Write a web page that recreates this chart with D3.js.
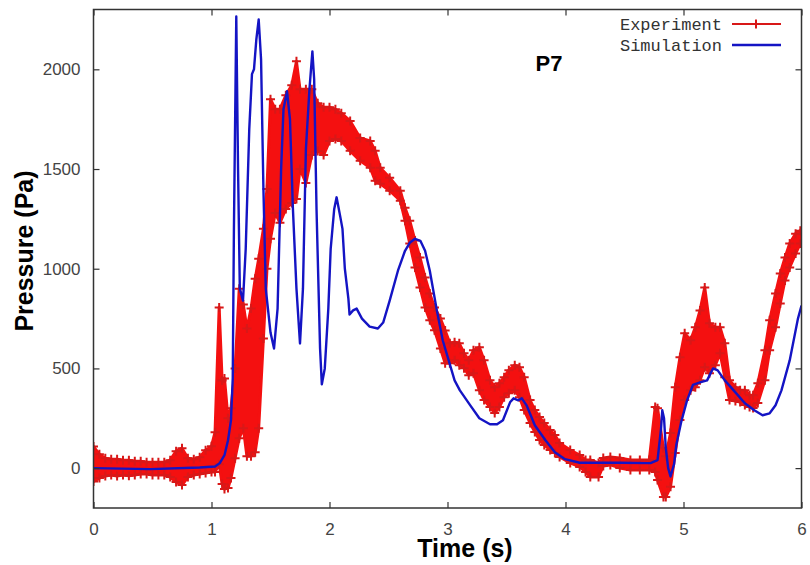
<!DOCTYPE html>
<html lang="en">
<head>
    <meta charset="UTF-8">
    <title>P7 pressure</title>
    <script src="https://d3js.org/d3.v7.min.js"></script>
    <style>
        body { margin: 0; background: #fff; }
        svg { display: block; }
        .tick text { font-family: "Liberation Sans", Arial, sans-serif; font-size: 17px; fill: #444; }
        .tick line { stroke: #333; stroke-width: 1.2; }
    </style>
</head>
<body>
    <div id="chart"></div>

    <script>
        // Experiment: band (upper / lower edge of the noisy trace)
        const expT = [0.00, 0.05, 0.10, 0.15, 0.20, 0.25, 0.30, 0.35, 0.40, 0.45, 0.50, 0.55, 0.60, 0.65, 0.70, 0.75, 0.80, 0.85, 0.90, 0.95,
            1.00, 1.03, 1.065, 1.09, 1.11, 1.14, 1.165, 1.20, 1.235, 1.27, 1.30, 1.335, 1.37, 1.40, 1.44, 1.47, 1.50, 1.54, 1.58, 1.63,
            1.68, 1.72, 1.75, 1.80, 1.85, 1.90, 1.95, 2.00, 2.05, 2.10, 2.175, 2.26, 2.345, 2.387, 2.43, 2.51, 2.60, 2.64, 2.68, 2.725,
            2.767, 2.81, 2.85, 2.89, 2.94, 2.98, 3.02, 3.06, 3.10, 3.14, 3.18, 3.22, 3.27, 3.31, 3.36, 3.40, 3.44, 3.48, 3.52, 3.57,
            3.61, 3.65, 3.70, 3.74, 3.78, 3.82, 3.87, 3.91, 3.95, 4.04, 4.12, 4.17, 4.21, 4.28, 4.32, 4.38, 4.46, 4.55, 4.63, 4.71,
            4.76, 4.78, 4.83, 4.85, 4.89, 4.93, 4.97, 5.01, 5.06, 5.10, 5.14, 5.18, 5.22, 5.27, 5.31, 5.35, 5.39, 5.44, 5.48, 5.52,
            5.56, 5.59, 5.63, 5.69, 5.73, 5.78, 5.82, 5.86, 5.90, 5.95, 5.99];
        const expHi = [108, 70, 50, 45, 45, 40, 40, 35, 35, 30, 30, 30, 30, 40, 85, 100, 50, 45, 55, 90,
            110, 180, 806, 440, 450, 250, 300, 500, 900, 820, 700, 800, 950, 1050, 1200, 1400, 1850, 1800, 1800, 1870,
            1920, 2040, 1900, 1900, 1900, 1830, 1810, 1810, 1800, 1780, 1741, 1656, 1641, 1591, 1506, 1456, 1391, 1306, 1241, 1141,
            1056, 956, 876, 806, 750, 690, 626, 631, 626, 576, 541, 591, 606, 541, 441, 406, 426, 456, 491, 516,
            506, 456, 341, 291, 256, 226, 191, 166, 126, 91, 66, 41, 41, 26, 51, 56, 51, 41, 41, 41,
            306, 300, 100, 60, 176, 406, 556, 676, 641, 706, 791, 906, 726, 706, 706, 626, 441, 406, 391, 391,
            366, 366, 426, 591, 741, 876, 976, 1056, 1126, 1176, 1191];
        const expLo = [-67, -50, -40, -35, -40, -35, -38, -35, -30, -30, -35, -35, -35, -45, -70, -85, -45, -35, -30, -25,
            -20, -20, 20, -80, -105, -100, -50, 50, 150, 200, 60, 60, 80, 200, 650, 1000, 1150, 1280, 1230, 1300,
            1330, 1350, 1500, 1430, 1570, 1590, 1570, 1640, 1650, 1640, 1591, 1541, 1506, 1441, 1426, 1391, 1341, 1241, 1126, 1006,
            906, 806, 741, 691, 600, 526, 526, 541, 516, 501, 466, 476, 391, 341, 306, 276, 306, 356, 376, 391,
            356, 291, 226, 181, 141, 116, 91, 76, 56, 26, 6, -19, -44, -44, 11, 16, 1, -9, -9, -9,
            -20, -60, -145, -145, -94, 76, 241, 341, 391, 406, 441, 506, 476, 516, 576, 456, 341, 336, 331, 316,
            306, 301, 326, 441, 591, 706, 826, 941, 1006, 1076, 1126];

        // Simulation
        const simT = [0.00, 0.48, 0.90, 1.03, 1.07, 1.11, 1.14, 1.165, 1.18, 1.19, 1.21, 1.225, 1.24, 1.267, 1.29, 1.32, 1.343, 1.36, 1.38, 1.40,
            1.42, 1.44, 1.46, 1.50, 1.53, 1.56, 1.59, 1.61, 1.64, 1.665, 1.69, 1.72, 1.75, 1.775, 1.80, 1.83, 1.855, 1.87, 1.89, 1.92,
            1.935, 1.96, 1.99, 2.01, 2.04, 2.06, 2.09, 2.11, 2.13, 2.16, 2.17, 2.20, 2.23, 2.275, 2.34, 2.41, 2.455, 2.51, 2.58, 2.64,
            2.68, 2.725, 2.77, 2.81, 2.85, 2.91, 2.96, 3.02, 3.06, 3.105, 3.19, 3.27, 3.36, 3.42, 3.47, 3.53, 3.56, 3.60, 3.63, 3.67,
            3.74, 3.83, 3.91, 3.996, 4.12, 4.29, 4.46, 4.72, 4.78, 4.81, 4.82, 4.835, 4.85, 4.87, 4.89, 4.92, 4.94, 4.98, 5.03, 5.08,
            5.14, 5.20, 5.25, 5.29, 5.35, 5.44, 5.52, 5.60, 5.67, 5.73, 5.78, 5.83, 5.90, 5.97, 6.00];
        const simP = [0, -5, 3, 8, 25, 65, 140, 240, 450, 1200, 2265, 1500, 900, 840, 1100, 1700, 1976, 2000, 2150, 2250,
            2050, 1400, 900, 680, 600, 800, 1500, 1800, 1890, 1750, 1300, 900, 625, 900, 1600, 1900, 2090, 1950, 1300, 600,
            420, 500, 800, 1100, 1300, 1358, 1265, 1200, 1000, 850, 770, 791, 800, 750, 710, 700, 730, 840, 990, 1090,
            1130, 1150, 1140, 1090, 990, 790, 640, 520, 440, 390, 317, 250, 220, 220, 240, 330, 350, 340, 350, 315,
            215, 140, 80, 45, 27, 27, 27, 25, 40, 200, 290, 250, 100, 0, -42, 20, 120, 230, 340, 417,
            430, 440, 500, 490, 440, 380, 325, 290, 265, 275, 315, 390, 540, 750, 815];

        const xTicks = [0, 1, 2, 3, 4, 5, 6];
        const yTicks = [0, 500, 1000, 1500, 2000];

        const width = 810, height = 565;
        const plot = { left: 93.5, right: 801.5, top: 9.5, bottom: 508 };

        const svg = d3.select("#chart")
            .append("svg")
            .attr("width", width)
            .attr("height", height);

        const x = d3.scaleLinear().domain([0, 6]).range([plot.left, plot.right]);
        const y = d3.scaleLinear().domain([-200, 2300]).range([plot.bottom, plot.top]);

        svg.append("clipPath").attr("id", "clip")
            .append("rect")
            .attr("x", plot.left).attr("y", plot.top)
            .attr("width", plot.right - plot.left).attr("height", plot.bottom - plot.top);

        const red = "#f41010";
        const markRed = "#d81818";
        const blue = "#1414c4";

        // Experiment band
        const expData = expT.map((t, i) => ({ t: t, hi: expHi[i], lo: expLo[i] }));
        const g = svg.append("g").attr("clip-path", "url(#clip)");

        g.append("path")
            .datum(expData)
            .attr("fill", red)
            .attr("stroke", red)
            .attr("stroke-width", 3)
            .attr("stroke-linejoin", "round")
            .attr("d", d3.area().x(d => x(d.t)).y0(d => y(d.lo)).y1(d => y(d.hi)));

        // "+" markers on both edges of the band
        const plus = (cx, cy, s) => `M${cx - s},${cy}H${cx + s}M${cx},${cy - s}V${cy + s}`;
        const marks = [];
        expData.forEach(d => { marks.push([d.t, d.hi]); marks.push([d.t, d.lo]); });
        g.append("path")
            .attr("fill", "none")
            .attr("stroke", markRed)
            .attr("stroke-width", 2)
            .attr("d", marks.map(m => plus(x(m[0]), y(m[1]), 4.5)).join(""));

        // Simulation line
        g.append("path")
            .datum(simT.map((t, i) => [t, simP[i]]))
            .attr("fill", "none")
            .attr("stroke", blue)
            .attr("stroke-width", 2.4)
            .attr("stroke-linejoin", "round")
            .attr("d", d3.line().x(d => x(d[0])).y(d => y(d[1])));

        // Axes, gnuplot style: inward ticks mirrored on all sides
        svg.append("g")
            .attr("transform", `translate(0,${plot.bottom})`)
            .call(d3.axisBottom(x).tickValues(xTicks).tickSizeInner(-6).tickSizeOuter(0).tickPadding(15).tickFormat(d3.format("d")))
            .call(a => a.select(".domain").remove());
        svg.append("g")
            .attr("transform", `translate(${plot.left},0)`)
            .call(d3.axisLeft(y).tickValues(yTicks).tickSizeInner(-6).tickSizeOuter(0).tickPadding(13).tickFormat(d3.format("d")))
            .call(a => a.select(".domain").remove());
        svg.append("g")
            .attr("transform", `translate(0,${plot.top})`)
            .call(d3.axisTop(x).tickValues(xTicks).tickSizeInner(-6).tickSizeOuter(0).tickFormat(""))
            .call(a => a.select(".domain").remove());
        svg.append("g")
            .attr("transform", `translate(${plot.right},0)`)
            .call(d3.axisRight(y).tickValues(yTicks).tickSizeInner(-6).tickSizeOuter(0).tickFormat(""))
            .call(a => a.select(".domain").remove());

        svg.append("rect")
            .attr("x", plot.left).attr("y", plot.top)
            .attr("width", plot.right - plot.left).attr("height", plot.bottom - plot.top)
            .attr("fill", "none")
            .attr("stroke", "#333")
            .attr("stroke-width", 1.5);

        // Legend
        const legend = svg.append("g").attr("font-family", "'Liberation Mono', 'DejaVu Sans Mono', monospace").attr("font-size", 17).attr("fill", "#333");
        legend.append("text").attr("x", 722).attr("y", 30).attr("text-anchor", "end").text("Experiment");
        legend.append("text").attr("x", 722).attr("y", 51).attr("text-anchor", "end").text("Simulation");
        legend.append("line").attr("x1", 732).attr("x2", 781).attr("y1", 24).attr("y2", 24).attr("stroke", markRed).attr("stroke-width", 2);
        legend.append("path").attr("d", plus(756, 24, 4.5)).attr("stroke", markRed).attr("stroke-width", 2);
        legend.append("line").attr("x1", 732).attr("x2", 781).attr("y1", 45).attr("y2", 45).attr("stroke", blue).attr("stroke-width", 2.4);

        // Titles
        svg.append("text")
            .attr("x", 549).attr("y", 71)
            .attr("text-anchor", "middle")
            .attr("font-family", "'Liberation Sans', Arial, sans-serif")
            .attr("font-weight", "bold")
            .attr("font-size", 22)
            .text("P7");

        svg.append("text")
            .attr("x", 465).attr("y", 557)
            .attr("text-anchor", "middle")
            .attr("font-family", "'Liberation Sans', Arial, sans-serif")
            .attr("font-weight", "bold")
            .attr("font-size", 25)
            .text("Time (s)");

        svg.append("text")
            .attr("transform", "translate(33,251) rotate(-90)")
            .attr("text-anchor", "middle")
            .attr("font-family", "'Liberation Sans', Arial, sans-serif")
            .attr("font-weight", "bold")
            .attr("font-size", 25)
            .text("Pressure (Pa)");
    </script>
</body>
</html>
